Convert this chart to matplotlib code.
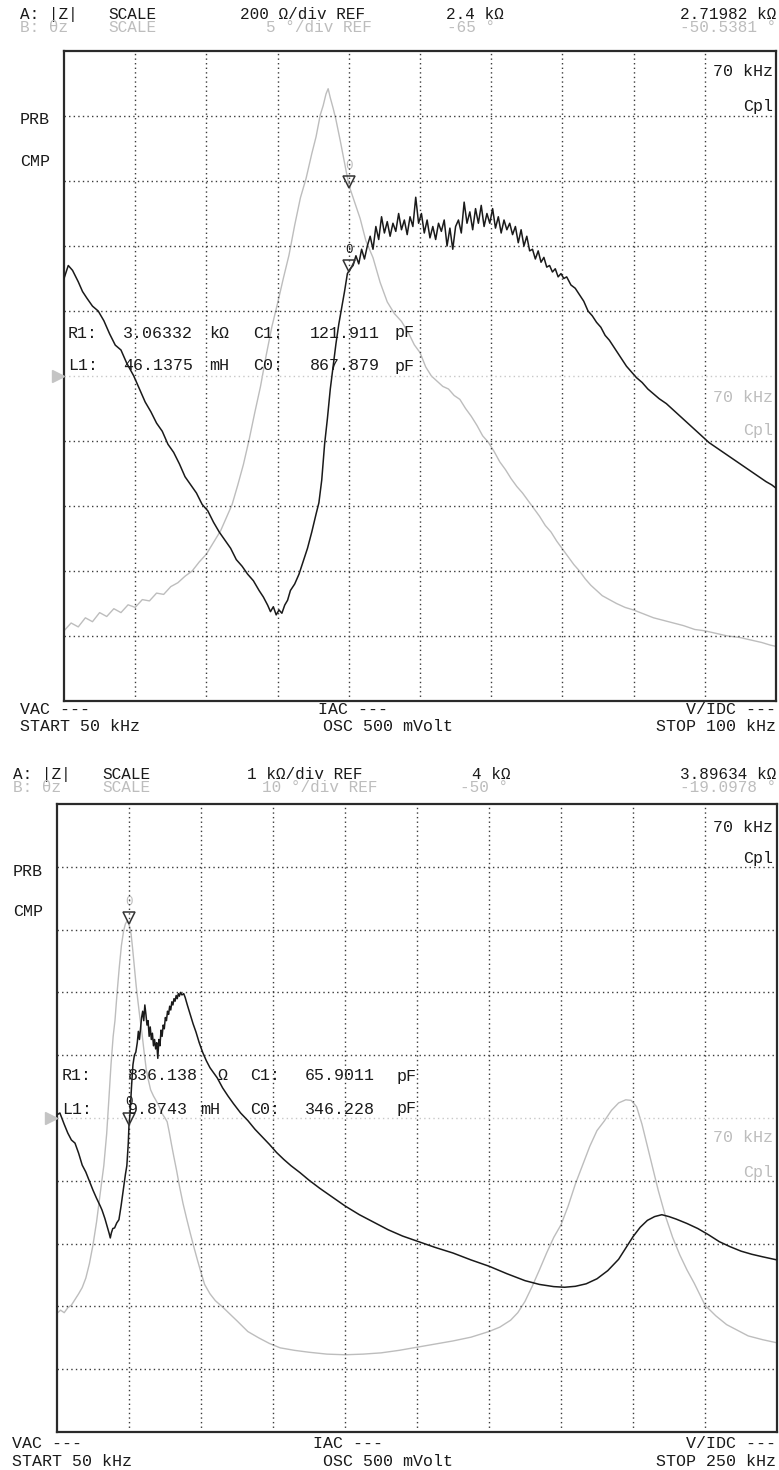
import numpy as np
import matplotlib
matplotlib.use("Agg")
import matplotlib.pyplot as plt
from matplotlib.transforms import offset_copy, blended_transform_factory

W, H = 779, 1470

# ---------------- data: panel 1 (50-100 kHz) ----------------
top_freq_range = (50, 100)          # kHz
top_z_ref, top_z_div = 2400, 200    # ohm
top_ph_ref, top_ph_div = -65, 5     # deg
top_marker_f = 70
top_marker_z = 2719.82
top_marker_ph = -50.5381

top_z_f = [50.0, 50.3, 50.6, 51.0, 51.3, 51.6, 52.0, 52.4, 52.8, 53.2, 53.6, 54.0, 54.4, 54.9,
           55.3, 55.7, 56.1, 56.5, 56.9, 57.3, 57.7, 58.1, 58.5, 58.9, 59.3, 59.7, 60.1, 60.5,
           60.9, 61.3, 61.7, 62.1, 62.5, 62.9, 63.3, 63.7, 64.0, 64.3, 64.5, 64.7, 64.9, 65.1,
           65.3, 65.5, 65.7, 65.9, 66.2, 66.5, 66.8, 67.1, 67.4, 67.7, 67.9, 68.1, 68.3, 68.5,
           68.7, 68.9, 69.1, 69.3, 69.5, 69.7, 69.9, 70.1, 70.3,
           70.5, 70.7, 70.9, 71.1, 71.3, 71.5, 71.7, 71.9, 72.1, 72.3, 72.5, 72.7, 72.9, 73.1,
           73.3, 73.5, 73.7, 73.9, 74.1, 74.3, 74.5, 74.7, 74.9, 75.1, 75.3, 75.5, 75.7, 75.9,
           76.1, 76.3, 76.5, 76.7, 76.9, 77.1, 77.3, 77.5, 77.7, 77.9, 78.1, 78.3, 78.5, 78.7,
           78.9, 79.1, 79.3, 79.5, 79.7, 79.9, 80.1, 80.3, 80.5, 80.7, 80.9, 81.1, 81.3, 81.5,
           81.7, 81.9, 82.1, 82.3, 82.5, 82.7, 82.9, 83.1, 83.3, 83.5, 83.7, 83.9, 84.1, 84.3,
           84.5, 84.7, 84.9, 85.1, 85.3, 85.6, 85.9, 86.2, 86.5, 86.8, 87.1, 87.4, 87.7, 88.0,
           88.3, 88.6, 88.9, 89.2, 89.5, 89.8, 90.2, 90.6, 91.0, 91.4, 91.8, 92.3, 92.8, 93.3,
           93.8, 94.3, 94.8, 95.3, 95.8, 96.3, 96.8, 97.3, 97.8, 98.3, 98.8, 99.3, 99.7, 100.0]
top_z_val = [2700, 2740, 2725, 2690, 2660, 2640, 2615, 2600, 2570, 2530, 2495, 2480, 2440, 2400,
             2360, 2320, 2290, 2255, 2230, 2190, 2165, 2130, 2090, 2065, 2040, 2005, 1985, 1950,
             1920, 1895, 1870, 1835, 1815, 1790, 1770, 1740, 1720, 1695, 1675, 1690, 1665, 1680,
             1670, 1695, 1710, 1740, 1760, 1790, 1830, 1870, 1920, 1975, 2010, 2080, 2190, 2270,
             2360, 2430, 2500, 2560, 2610, 2660, 2715, 2730, 2740,
             2770, 2745, 2790, 2760, 2800, 2830, 2790, 2860, 2820, 2890, 2840, 2875, 2830, 2870,
             2845, 2900, 2850, 2880, 2835, 2890, 2860, 2950, 2870, 2900, 2840, 2880, 2825, 2860,
             2820, 2870, 2845, 2880, 2800, 2855, 2790, 2860, 2880, 2840, 2935, 2870, 2905, 2850,
             2915, 2870, 2925, 2860, 2900, 2870, 2915, 2855, 2890, 2840, 2880, 2850, 2870, 2835,
             2860, 2810, 2850, 2800, 2830, 2785, 2790, 2760, 2785, 2750, 2765, 2735, 2740, 2720,
             2730, 2705, 2715, 2700, 2705, 2680, 2670, 2650, 2630, 2600, 2585, 2565, 2550, 2525,
             2510, 2490, 2470, 2450, 2430, 2415, 2395, 2380, 2360, 2345, 2330, 2315, 2295, 2275,
             2255, 2235, 2215, 2195, 2180, 2165, 2150, 2135, 2120, 2105, 2090, 2075, 2065, 2055]

top_ph_f = [50.0, 50.5, 51.0, 51.5, 52.0, 52.5, 53.0, 53.5, 54.0, 54.5, 55.0, 55.5, 56.0, 56.5,
            57.0, 57.5, 58.0, 58.5, 59.0, 59.5, 60.0, 60.5, 61.0, 61.4, 61.8, 62.2, 62.6, 63.0,
            63.4, 63.8, 64.2, 64.6, 65.0, 65.4, 65.8, 66.2, 66.6, 67.0, 67.4, 67.7, 68.0, 68.2,
            68.4, 68.55, 68.7, 68.9, 69.1, 69.4, 69.7, 70.0, 70.4, 70.8, 71.2, 71.7, 72.2, 72.7,
            73.2, 73.7, 74.2, 74.6, 75.0, 75.4, 75.8, 76.2, 76.6, 77.0, 77.4, 77.8, 78.2, 78.6,
            79.0, 79.4, 79.8, 80.2, 80.6, 81.0, 81.4, 81.8, 82.2, 82.6, 83.0, 83.4, 83.8, 84.2,
            84.6, 85.0, 85.4, 85.8, 86.2, 86.6, 87.0, 87.4, 87.8, 88.3, 88.8, 89.4, 90.0, 90.7,
            91.4, 92.1, 92.8, 93.5, 94.3, 95.0, 95.8, 96.6, 97.4, 98.2, 99.0, 99.6, 100.0]
top_ph_val = [-84.6, -84.0, -84.3, -83.6, -83.9, -83.2, -83.5, -82.9, -83.2, -82.6, -82.8, -82.2,
              -82.3, -81.7, -81.8, -81.2, -80.9, -80.4, -80.0, -79.3, -78.7, -77.8, -76.9, -75.9,
              -74.9, -73.4, -71.8, -69.9, -67.8, -65.8, -63.4, -61.2, -59.4, -57.5, -55.7, -53.4,
              -51.3, -49.8, -47.9, -46.6, -44.9, -44.2, -43.3, -42.9, -43.6, -44.4, -45.3, -46.9,
              -48.6, -50.3, -51.6, -52.9, -54.6, -55.9, -57.8, -59.3, -60.2, -60.8, -61.7, -62.6,
              -63.2, -64.3, -65.0, -65.4, -65.8, -66.0, -66.5, -66.8, -67.5, -68.1, -68.8, -69.6,
              -70.1, -70.8, -71.6, -72.2, -72.9, -73.5, -74.0, -74.6, -75.2, -75.8, -76.5, -77.0,
              -77.7, -78.3, -78.9, -79.5, -80.0, -80.6, -81.1, -81.5, -81.9, -82.2, -82.5, -82.8,
              -83.0, -83.3, -83.6, -83.8, -84.0, -84.2, -84.5, -84.6, -84.8, -85.0, -85.1, -85.3,
              -85.5, -85.7, -85.8]

# ---------------- data: panel 2 (50-250 kHz) ----------------
bot_freq_range = (50, 250)
bot_z_ref, bot_z_div = 4000, 1000
bot_ph_ref, bot_ph_div = -50, 10
bot_marker_f = 70
bot_marker_z = 3896.34
bot_marker_ph = -19.0978

bot_z_f = [50.0, 50.8, 52.0, 53.0, 54.0, 55.0, 56.0, 57.0, 58.0, 58.9, 60.0, 61.0, 62.0, 62.5,
           63.3, 64.0, 64.5, 64.8, 65.1, 65.5, 66.0, 66.6, 67.2, 67.8, 68.4, 69.0, 69.4, 69.8,
           70.0, 70.3, 70.7, 71.1, 71.5, 71.9, 72.3, 72.6, 72.9, 73.2, 73.5, 73.8, 74.1, 74.4,
           74.7, 75.0, 75.3, 75.6, 75.9, 76.2, 76.5, 76.8, 77.1, 77.4, 77.7, 78.0, 78.3, 78.6,
           78.9, 79.2, 79.5, 79.8, 80.1, 80.4, 80.7, 81.0, 81.3, 81.6, 81.9, 82.2, 82.5, 82.8,
           83.1, 83.4, 83.7, 84.0, 84.3, 84.7, 85.2, 85.6, 86.2, 87.0, 87.8, 88.6, 89.5, 90.5,
           91.5, 92.5, 93.5, 94.5, 96.0, 97.5, 99.0, 101, 103, 105, 107, 109, 111, 113, 115,
           117.5, 120, 123, 126, 130, 134, 138, 142, 146, 150, 155, 160, 165, 170, 175, 180,
           184, 188, 191, 194, 197, 200, 203, 206, 208, 210, 212, 214, 216, 218, 220, 222, 225,
           228, 231, 234, 237, 240, 243, 246, 250]
bot_z_val = [4050, 4080, 3900, 3760, 3650, 3600, 3440, 3250, 3140, 3010, 2850, 2720, 2600, 2535,
             2400, 2260, 2160, 2090, 2170, 2240, 2250, 2330, 2380, 2600, 2850, 3100, 3240, 3600,
             3890, 4080, 4500, 4850, 5000, 5050, 5200, 5380, 5250, 5420, 5600, 5700, 5550, 5800,
             5650, 5480, 5550, 5300, 5450, 5250, 5350, 5150, 5250, 5100, 5200, 4950, 5250, 5150,
             5400, 5300, 5480, 5420, 5600, 5550, 5700, 5650, 5780, 5720, 5850, 5800, 5900, 5860,
             5950, 5900, 5980, 5940, 6000, 5960, 5980, 5920, 5800, 5650, 5500, 5370, 5200, 5040,
             4910, 4800, 4720, 4640, 4480, 4350, 4230, 4080, 3960, 3820, 3700, 3580, 3450, 3340,
             3240, 3130, 3010, 2880, 2760, 2600, 2460, 2340, 2220, 2120, 2040, 1940, 1850, 1740,
             1640, 1520, 1410, 1350, 1315, 1305, 1320, 1360, 1440, 1570, 1750, 1930, 2110, 2260,
             2370, 2430, 2460, 2430, 2390, 2320, 2240, 2140, 2030, 1950, 1880, 1830, 1790, 1740]

bot_ph_f = [50.0, 51.0, 52.0, 53.0, 54.0, 55.0, 56.0, 57.0, 58.0, 59.0, 60.0, 61.0, 62.0, 63.0,
            63.8, 64.4, 65.0, 65.6, 66.1, 66.7, 67.3, 67.9, 68.5, 69.0, 69.4, 69.8, 70.2, 70.6,
            71.0, 71.5, 72.0, 72.5, 73.0, 73.6, 74.2, 74.8, 75.4, 76.0, 76.8, 77.6, 78.4, 79.2,
            80.0, 80.6, 81.2, 81.8, 82.4, 83.2, 84.0, 85.0, 86.0, 87.0, 88.0, 89.0, 90.0, 91.0,
            92.5, 94.0, 96.0, 98.0, 100, 103, 106, 109, 112, 116, 120, 125, 130, 135, 140, 145,
            150, 155, 160, 165, 170, 173, 176, 178, 180, 182, 184, 186, 188, 190, 192, 194, 196,
            198, 200, 202, 204, 206, 208, 209.5, 211, 212.5, 214, 215.5, 217, 219, 221, 223, 225,
            227, 230, 233, 236, 239, 242, 246, 250]
bot_ph_val = [-81.1, -80.6, -81.0, -80.2, -79.8, -78.9, -78.0, -77.0, -75.5, -73.2, -70.2, -66.5,
              -62.0, -57.6, -52.5, -47.1, -41.5, -37.0, -34.5, -30.0, -26.0, -22.5, -20.2, -19.1,
              -18.7, -18.9, -19.6, -20.8, -23.0, -26.0, -29.0, -31.5, -33.9, -36.5, -39.5, -42.3,
              -44.0, -45.5, -46.5, -47.3, -48.2, -49.3, -50.0, -50.6, -52.3, -54.2, -56.0, -58.3,
              -60.8, -63.6, -66.0, -68.3, -70.5, -72.6, -74.6, -76.5, -78.0, -79.1, -80.1, -81.2,
              -82.3, -84.0, -85.0, -85.9, -86.6, -87.0, -87.3, -87.6, -87.7, -87.6, -87.4, -87.0,
              -86.5, -86.0, -85.5, -84.9, -84.0, -83.3, -82.2, -81.0, -79.2, -76.8, -74.2, -71.5,
              -69.0, -67.0, -64.0, -60.5, -57.5, -54.5, -52.0, -50.5, -48.8, -47.6, -47.1, -47.2,
              -48.2, -51.0, -54.5, -58.0, -61.5, -65.6, -69.0, -71.8, -74.2, -76.3, -79.8, -81.5,
              -82.9, -83.8, -84.7, -85.3, -85.8]

# ---------------- texts ----------------
top_header_a = ["A: |Z|", "SCALE", "200 \u03a9/div REF", "2.4 k\u03a9", "2.71982 k\u03a9"]
top_header_b = ["B: \u03b8z", "SCALE", "5 \u00b0/div REF", "-65 \u00b0", "-50.5381 \u00b0"]
top_footer = ["VAC ---", "START 50 kHz", "IAC ---", "OSC 500 mVolt", "V/IDC ---", "STOP 100 kHz"]
top_params_1 = ["R1:", "3.06332", "k\u03a9", "C1:", "121.911", "pF"]
top_params_2 = ["L1:", "46.1375", "mH", "C0:", "867.879", "pF"]

bot_header_a = ["A: |Z|", "SCALE", "1 k\u03a9/div REF", "4 k\u03a9", "3.89634 k\u03a9"]
bot_header_b = ["B: \u03b8z", "SCALE", "10 \u00b0/div REF", "-50 \u00b0", "-19.0978 \u00b0"]
bot_footer = ["VAC ---", "START 50 kHz", "IAC ---", "OSC 500 mVolt", "V/IDC ---", "STOP 250 kHz"]
bot_params_1 = ["R1:", "836.138", "\u03a9", "C1:", "65.9011", "pF"]
bot_params_2 = ["L1:", "9.8743", "mH", "C0:", "346.228", "pF"]

side_labels = ["PRB", "CMP"]
marker_labels = ["70 kHz", "Cpl"]

# ---------------- style ----------------
BLACK = "#1a1a1a"
GRAY = "#bdbdbd"
GRID = "#3a3a3a"
FONT = ["Liberation Mono", "DejaVu Sans Mono"]
FS = 12
HFS = 11.5
CAPR = 0.66

fig = plt.figure(figsize=(W / 100, H / 100), dpi=100)
fig.patch.set_facecolor("white")


def T(xpx, ycpx, s, ha="left", color=BLACK, size=FS):
    cap = CAPR * size * 100 / 72.0
    fig.text(xpx / W, 1 - (ycpx + cap / 2) / H, s, ha=ha, va="baseline",
             color=color, fontsize=size, family=FONT)


def make_panel(rect, frange, zref, zdiv, phref, phdiv, fstep):
    ax = fig.add_axes(rect)
    ax.set_xlim(*frange)
    ax.set_ylim(zref - 5 * zdiv, zref + 5 * zdiv)
    axb = ax.twinx()
    axb.set_ylim(phref - 5 * phdiv, phref + 5 * phdiv)
    xt = np.arange(frange[0], frange[1] + 0.001, fstep)
    for x in xt[1:-1]:
        ax.axvline(x, color=GRID, lw=1.0, linestyle=(0, (1, 2.3)), zorder=1)
    for k in range(1, 10):
        y = zref - 5 * zdiv + k * zdiv
        col = "#c8c8c8" if k == 5 else GRID
        ax.axhline(y, color=col, lw=1.0, linestyle=(0, (1, 2.3)), zorder=1)
    for a in (ax, axb):
        a.set_xticks([])
        a.set_yticks([])
        a.patch.set_visible(False)
    for sp in ax.spines.values():
        sp.set_color("#2a2a2a")
        sp.set_linewidth(1.6)
    for sp in axb.spines.values():
        sp.set_visible(False)
    ax.set_zorder(2)
    axb.set_zorder(1)
    return ax, axb


def markers(ax, axb, f, z, ph):
    tri_t = offset_copy(ax.transData, fig=fig, x=0, y=4.3, units="points")
    tri_tb = offset_copy(axb.transData, fig=fig, x=0, y=4.3, units="points")
    axb.plot([f], [ph], marker="v", ms=8.5, mfc="none", mec="#333333", mew=1.1,
             transform=tri_tb, clip_on=False, zorder=5)
    ax.plot([f], [z], marker="v", ms=8.5, mfc="none", mec="#333333", mew=1.1,
            transform=tri_t, clip_on=False, zorder=5)
    lab_t = offset_copy(ax.transData, fig=fig, x=0, y=16, units="points")
    lab_tb = offset_copy(axb.transData, fig=fig, x=0, y=16, units="points")
    ax.text(f, z, "0", transform=lab_t, ha="center", va="center", fontsize=9,
            family=FONT, color=BLACK, zorder=6)
    axb.text(f, ph, "0", transform=lab_tb, ha="center", va="center", fontsize=9,
             family=FONT, color=GRAY, zorder=6)


def ref_arrow(ax, zref, xoff):
    tr = blended_transform_factory(ax.transAxes, ax.transData)
    ax.plot([xoff], [zref], marker=">", ms=8, color="#c4c4c4", transform=tr,
            clip_on=False, zorder=5)


# ---------- panel 1 ----------
ax1, ax1b = make_panel([64 / W, 1 - 701 / H, 712 / W, 650 / H], top_freq_range,
                       top_z_ref, top_z_div, top_ph_ref, top_ph_div, 5)
ax1b.plot(top_ph_f, top_ph_val, color=GRAY, lw=1.0, zorder=2)
ax1.plot(top_z_f, top_z_val, color=BLACK, lw=1.1, zorder=3)
markers(ax1, ax1b, top_marker_f, top_marker_z, top_marker_ph)
ref_arrow(ax1, top_z_ref, -0.0085)

# ---------- panel 2 ----------
ax2, ax2b = make_panel([57 / W, 1 - 1432 / H, 720 / W, 628 / H], bot_freq_range,
                       bot_z_ref, bot_z_div, bot_ph_ref, bot_ph_div, 20)
ax2b.plot(bot_ph_f, bot_ph_val, color=GRAY, lw=1.0, zorder=2)
ax2.plot(bot_z_f, bot_z_val, color=BLACK, lw=1.1, zorder=3)
markers(ax2, ax2b, bot_marker_f, bot_marker_z, bot_marker_ph)
ref_arrow(ax2, bot_z_ref, -0.0085)

# ---------- texts panel 1 ----------
T(20, 14, top_header_a[0], size=HFS); T(108, 14, top_header_a[1], size=HFS)
T(240, 14, top_header_a[2], size=HFS)
T(446, 14, top_header_a[3], size=HFS); T(776, 14, top_header_a[4], ha="right", size=HFS)
T(20, 26.5, top_header_b[0], color=GRAY, size=HFS); T(108, 26.5, top_header_b[1], color=GRAY, size=HFS)
T(372, 26.5, top_header_b[2], ha="right", color=GRAY, size=HFS)
T(447, 26.5, top_header_b[3], color=GRAY, size=HFS)
T(776, 26.5, top_header_b[4], ha="right", color=GRAY, size=HFS)

T(20, 119, side_labels[0]); T(20, 161, side_labels[1])
T(773, 71, marker_labels[0], ha="right"); T(773, 106, marker_labels[1], ha="right")
T(773, 397, marker_labels[0], ha="right", color=GRAY)
T(773, 430, marker_labels[1], ha="right", color=GRAY)

px = [68, 123, 209, 253, 310, 395]
for x, s in zip(px, top_params_1):
    T(x, 332, s)
for x, s in zip(px, top_params_2):
    T(x, 365, s)

T(20, 709, top_footer[0]); T(20, 725, top_footer[1])
T(318, 709, top_footer[2]); T(323, 725, top_footer[3])
T(776, 709, top_footer[4], ha="right"); T(776, 725, top_footer[5], ha="right")

# ---------- texts panel 2 ----------
T(13, 774, bot_header_a[0], size=HFS); T(102, 774, bot_header_a[1], size=HFS)
T(247, 774, bot_header_a[2], size=HFS)
T(510, 774, bot_header_a[3], ha="right", size=HFS)
T(776, 774, bot_header_a[4], ha="right", size=HFS)
T(13, 787, bot_header_b[0], color=GRAY, size=HFS); T(102, 787, bot_header_b[1], color=GRAY, size=HFS)
T(377, 787, bot_header_b[2], ha="right", color=GRAY, size=HFS)
T(508, 787, bot_header_b[3], ha="right", color=GRAY, size=HFS)
T(776, 787, bot_header_b[4], ha="right", color=GRAY, size=HFS)

T(13, 870, side_labels[0]); T(13, 911, side_labels[1])
T(773, 826, marker_labels[0], ha="right"); T(773, 857, marker_labels[1], ha="right")
T(773, 1137, marker_labels[0], ha="right", color=GRAY)
T(773, 1171, marker_labels[1], ha="right", color=GRAY)

px2a = [62, 128, 218, 250, 305, 397]
px2b = [62, 128, 200, 250, 305, 397]
for x, s in zip(px2a, bot_params_1):
    T(x, 1075, s)
for x, s in zip(px2b, bot_params_2):
    T(x, 1108, s)

T(12, 1443, bot_footer[0]); T(12, 1460, bot_footer[1])
T(313, 1443, bot_footer[2]); T(323, 1460, bot_footer[3])
T(776, 1443, bot_footer[4], ha="right"); T(776, 1460, bot_footer[5], ha="right")

fig.savefig("out.png", dpi=100)
